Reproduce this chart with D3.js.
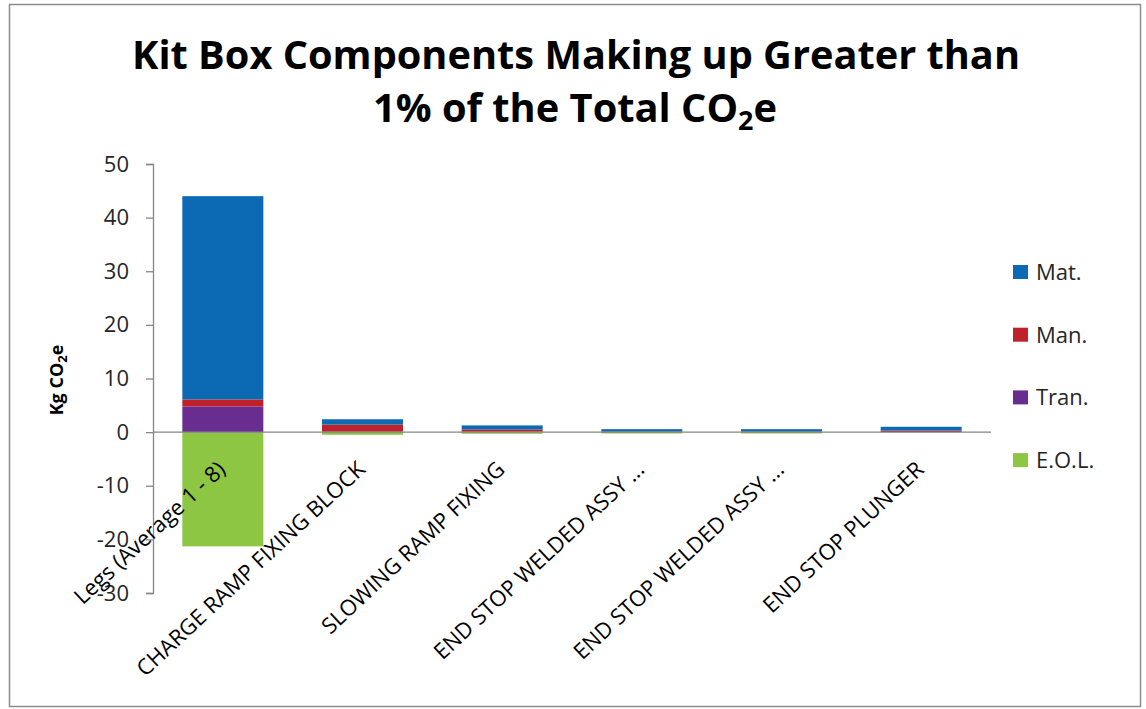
<!DOCTYPE html>
<html>
<head>
<meta charset="utf-8">
<script src="https://cdn.jsdelivr.net/npm/d3@7"></script>
<style>
  html, body { margin: 0; padding: 0; background: #fff; }
  svg { display: block; }
</style>
</head>
<body>
<svg id="chart" width="1146" height="709"></svg>
<script>
// Components and their CO2e contributions (kg) by life-cycle stage
const categories = ["Legs (Average 1 - 8)", "CHARGE RAMP FIXING BLOCK", "SLOWING RAMP FIXING",
                    "END STOP WELDED ASSY ...", "END STOP WELDED ASSY ...", "END STOP PLUNGER"];
const matValues  = [37.9, 1.0, 0.75, 0.45, 0.45, 0.7];
const manValues  = [1.3, 1.3, 0.4, 0.1, 0.1, 0.3];
const tranValues = [4.8, 0.1, 0.1, 0.0, 0.0, 0.0];
const eolValues  = [-21.3, -0.5, -0.3, -0.25, -0.25, 0.0];
const yTicks = [-30, -20, -10, 0, 10, 20, 30, 40, 50];

const seriesNames  = ["Mat.", "Man.", "Tran.", "E.O.L."];
const seriesColors = { "Mat.": "#0c69b4", "Man.": "#c0202a", "Tran.": "#692d90", "E.O.L.": "#8dc642" };

const rows = categories.map((c, i) => ({
  idx: i, name: c,
  "Mat.": matValues[i], "Man.": manValues[i], "Tran.": tranValues[i], "E.O.L.": eolValues[i]
}));

const svg = d3.select("#chart");
const plot = { left: 153, right: 991, top: 164, bottom: 593 };
const labelFont = "'Open Sans', sans-serif";

// chart frame
svg.append("rect").attr("x", 9.5).attr("y", 4.5).attr("width", 1131).attr("height", 702)
  .attr("fill", "#fff").attr("stroke", "#8c8c8c").attr("stroke-width", 1.5);

// title
const title = svg.append("g").attr("font-family", "'Liberation Sans Narrow', 'Open Sans', sans-serif")
  .attr("font-weight", "bold").attr("fill", "#000").attr("text-anchor", "middle");
title.append("text").attr("x", 576).attr("y", 69).attr("font-size", 40)
  .attr("textLength", 888).attr("lengthAdjust", "spacingAndGlyphs")
  .text("Kit Box Components Making up Greater than");
const t2 = title.append("text").attr("x", 575).attr("y", 122).attr("font-size", 40)
  .attr("textLength", 404).attr("lengthAdjust", "spacingAndGlyphs");
t2.append("tspan").text("1% of the Total CO");
t2.append("tspan").attr("font-size", 27).attr("dy", 8).text("2");
t2.append("tspan").attr("dy", -8).text("e");

// scales
const x = d3.scaleBand().domain(rows.map(d => d.idx)).range([plot.left, plot.right]).padding(0);
const y = d3.scaleLinear().domain([-30, 50]).range([plot.bottom, plot.top]);
const barW = x.bandwidth() * 0.58;

// stacked series (positives stack up from zero, negatives down)
const stack = d3.stack().keys(["E.O.L.", "Tran.", "Man.", "Mat."]).offset(d3.stackOffsetDiverging);
const layers = stack(rows);

svg.append("g").selectAll("g").data(layers).join("g")
  .attr("fill", d => seriesColors[d.key])
  .selectAll("rect").data(d => d).join("rect")
  .attr("x", d => x(d.data.idx) + (x.bandwidth() - barW) / 2)
  .attr("width", barW)
  .attr("y", d => y(Math.max(d[0], d[1])))
  .attr("height", d => Math.abs(y(d[0]) - y(d[1])));

// y axis
const yAxis = d3.axisLeft(y).tickValues(yTicks).tickSize(7).tickPadding(17).tickFormat(d => String(d));
const yg = svg.append("g").attr("transform", `translate(${plot.left},0)`).call(yAxis);
yg.select(".domain").attr("stroke", "#868686").attr("stroke-width", 1.3);
yg.selectAll(".tick line").attr("stroke", "#868686").attr("stroke-width", 1.3);
yg.selectAll(".tick text").attr("font-family", labelFont).attr("font-size", 22)
  .attr("fill", "#262626");

// zero baseline
svg.append("line").attr("x1", plot.left).attr("x2", plot.right)
  .attr("y1", y(0)).attr("y2", y(0)).attr("stroke", "#868686").attr("stroke-width", 1.3);

// category labels, rotated
svg.append("g").selectAll("text").data(rows).join("text")
  .attr("transform", d => `translate(${x(d.idx) + x.bandwidth() / 2 + 4},${y(0) + 39}) rotate(-43)`)
  .attr("text-anchor", "end")
  .attr("font-family", labelFont).attr("font-size", 22).attr("fill", "#000")
  .text(d => d.name);

// y axis title
const yt = svg.append("text").attr("transform", "translate(63,380) rotate(-90)")
  .attr("text-anchor", "middle").attr("font-family", labelFont)
  .attr("font-weight", "bold").attr("font-size", 18).attr("fill", "#000");
yt.append("tspan").text("Kg CO");
yt.append("tspan").attr("font-size", 13).attr("dy", 4).text("2");
yt.append("tspan").attr("dy", -4).text("e");

// legend
const legend = svg.append("g").selectAll("g").data(seriesNames).join("g")
  .attr("transform", (d, i) => `translate(1013,${272 + i * 62.7})`);
legend.append("rect").attr("x", 0).attr("y", -7).attr("width", 15).attr("height", 14)
  .attr("fill", d => seriesColors[d]);
legend.append("text").attr("x", 23).attr("y", 0).attr("dy", "0.36em")
  .attr("font-family", labelFont).attr("font-size", 22).attr("fill", "#262626")
  .text(d => d);
</script>
</body>
</html>
